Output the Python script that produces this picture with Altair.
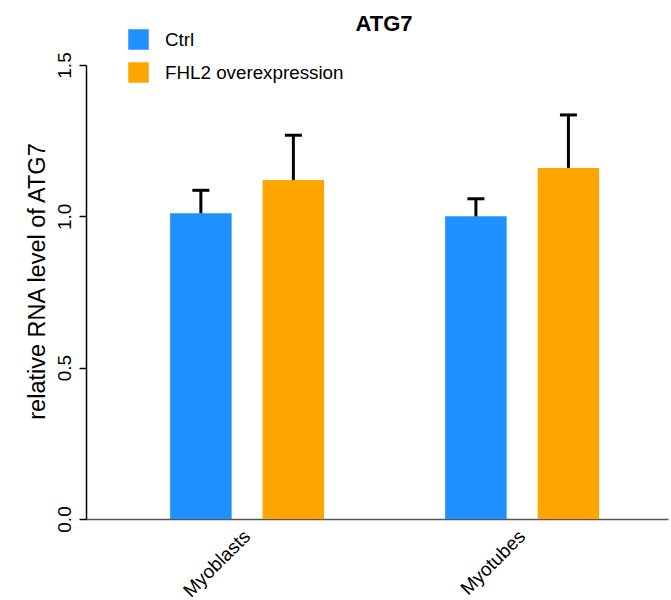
import altair as alt
import pandas as pd

# Relative ATG7 RNA levels (mean with upper SD bar)
cells = ["Myoblasts", "Myoblasts", "Myotubes", "Myotubes"]
groups = ["Ctrl", "FHL2 overexpression", "Ctrl", "FHL2 overexpression"]
means = [1.01, 1.12, 1.00, 1.16]
sds = [0.076, 0.148, 0.058, 0.175]

df = pd.DataFrame({"cell": cells, "group": groups, "mean": means, "sd": sds})
df["upper"] = df["mean"] + df["sd"]

FONT = "Liberation Sans"

x_enc = alt.X(
    "cell:N",
    title=None,
    sort=["Myoblasts", "Myotubes"],
    scale=alt.Scale(paddingInner=0.44, paddingOuter=0.278, align=0.55),
    axis=alt.Axis(
        labelAngle=315,
        labelAlign="right",
        labelBaseline="middle",
        labelFontSize=19,
        labelFont=FONT,
        labelColor="black",
        labelPadding=14,
        ticks=False,
        domainColor="#555555",
        domainWidth=1.5,
    ),
)
xoff = alt.XOffset(
    "group:N",
    sort=["Ctrl", "FHL2 overexpression"],
    scale=alt.Scale(paddingInner=0.335, paddingOuter=0),
)

color = alt.Color(
    "group:N",
    sort=["Ctrl", "FHL2 overexpression"],
    scale=alt.Scale(domain=["Ctrl", "FHL2 overexpression"], range=["#1E90FF", "#FFA500"]),
    legend=alt.Legend(
        title=None,
        orient="none",
        legendX=42,
        legendY=-36,
        symbolType="square",
        symbolSize=420,
        symbolStrokeWidth=0,
        symbolOpacity=1,
        labelFontSize=18.8,
        labelFont=FONT,
        labelColor="black",
        labelOffset=16,
        labelLimit=0,
        rowPadding=12,
    ),
)

y_scale = alt.Scale(domain=[0, 1.5], nice=False, zero=True)
y_axis = alt.Axis(
    values=[0, 0.5, 1.0, 1.5],
    format=".1f",
    title="relative RNA level of ATG7",
    titleFont=FONT,
    titleFontSize=23.5,
    titleFontWeight="normal",
    titleColor="black",
    titleAngle=270,
    titleAlign="center",
    titleBaseline="alphabetic",
    titleX=-42,
    titleY=216,
    labelAngle=270,
    labelAlign="center",
    labelBaseline="alphabetic",
    labelFont=FONT,
    labelFontSize=19,
    labelColor="black",
    labelPadding=9,
    tickSize=7,
    tickColor="black",
    tickWidth=1.5,
    domainColor="black",
    domainWidth=1.5,
    grid=False,
)

bars = alt.Chart(df).mark_bar().encode(
    x=x_enc,
    xOffset=xoff,
    y=alt.Y("mean:Q", scale=y_scale, axis=y_axis),
    color=color,
)

stems = alt.Chart(df).mark_rule(color="black", strokeWidth=3).encode(
    x=alt.X("cell:N", sort=["Myoblasts", "Myotubes"]),
    xOffset=xoff,
    y="mean:Q",
    y2="upper:Q",
)

caps = alt.Chart(df).mark_tick(color="black", orient="horizontal", size=17, thickness=3, opacity=1).encode(
    x=alt.X("cell:N", sort=["Myoblasts", "Myotubes"]),
    xOffset=xoff,
    y="upper:Q",
)

chart = (
    alt.layer(bars, stems, caps)
    .properties(
        width=582,
        height=454,
        view=alt.ViewBackground(stroke="transparent", strokeWidth=0),
        autosize=alt.AutoSizeParams(type="none"),
        padding={"left": 86, "top": 65, "right": 3, "bottom": 81},
        title=alt.TitleParams(
            "ATG7",
            font=FONT,
            fontSize=22,
            fontWeight="bold",
            color="black",
            anchor="middle",
            dx=7,
            offset=-7,
        ),
    )
    .configure_view(strokeWidth=0, stroke="transparent")
    .configure_axis(grid=False)
    .configure(background="white")
)

chart.save("out.html", embed_options={"renderer": "svg", "actions": False})
